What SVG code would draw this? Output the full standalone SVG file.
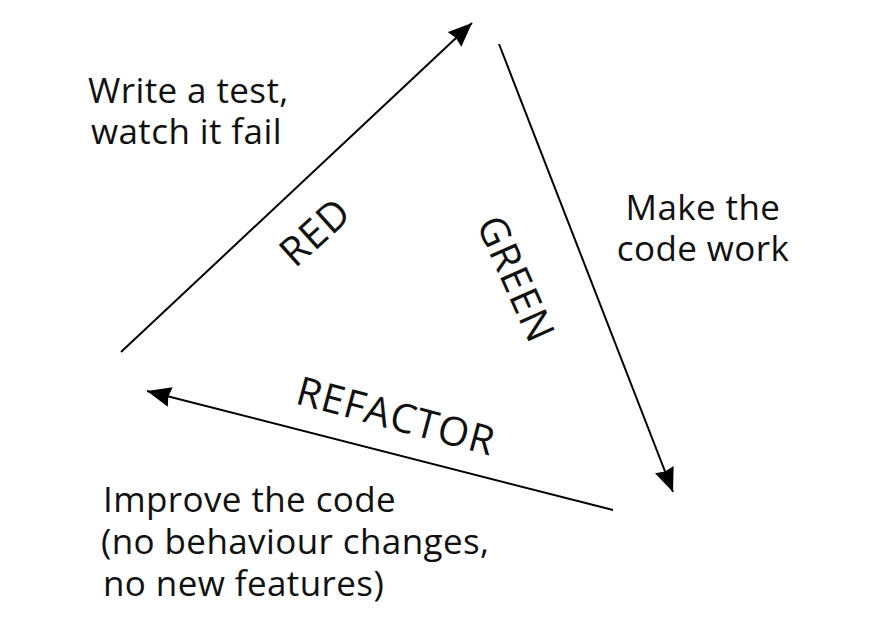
<svg xmlns="http://www.w3.org/2000/svg" width="871" height="620" viewBox="0 0 871 620">
<style>
.t{font-family:"Open Sans","Liberation Sans",sans-serif;font-size:35px;letter-spacing:0.4px;fill:#111}
.big{font-family:"Open Sans","Liberation Sans",sans-serif;font-size:40px;letter-spacing:1px;fill:#111;text-anchor:middle}
.ln{stroke:#000;stroke-width:2;fill:none;marker-end:url(#ah)}
</style>
<defs>
<marker id="ah" markerUnits="userSpaceOnUse" markerWidth="26" markerHeight="22" refX="24" refY="10" orient="auto">
<path d="M0,0 L24,10 L0,20 L2,10 z" fill="#000"/>
</marker>
</defs>
<rect width="871" height="620" fill="#fff"/>
<g id="connectors">
<line class="ln" x1="121" y1="352" x2="472" y2="23"/>
<line class="ln" x1="499" y1="44" x2="673" y2="492"/>
<line class="ln" x1="613" y1="510" x2="147" y2="391"/>
</g>
<g id="red"><text class="big" transform="translate(315,232) rotate(-42)" y="14">RED</text></g>
<g id="green"><text class="big" transform="translate(516,279) rotate(66)" y="14">GREEN</text></g>
<g id="refactor"><text class="big" transform="translate(396,416) rotate(15)" y="14">REFACTOR</text></g>
<g id="label-red"><text class="t" x="88" y="103">Write a test,</text><text class="t" x="91" y="144">watch it fail</text></g>
<g id="label-green"><text class="t" text-anchor="middle" x="703" y="220">Make the</text><text class="t" text-anchor="middle" x="703" y="261">code work</text></g>
<g id="label-refactor"><text class="t" x="103" y="512">Improve the code</text><text class="t" x="101" y="554">(no behaviour changes,</text><text class="t" x="103" y="596">no new features)</text></g>
</svg>
